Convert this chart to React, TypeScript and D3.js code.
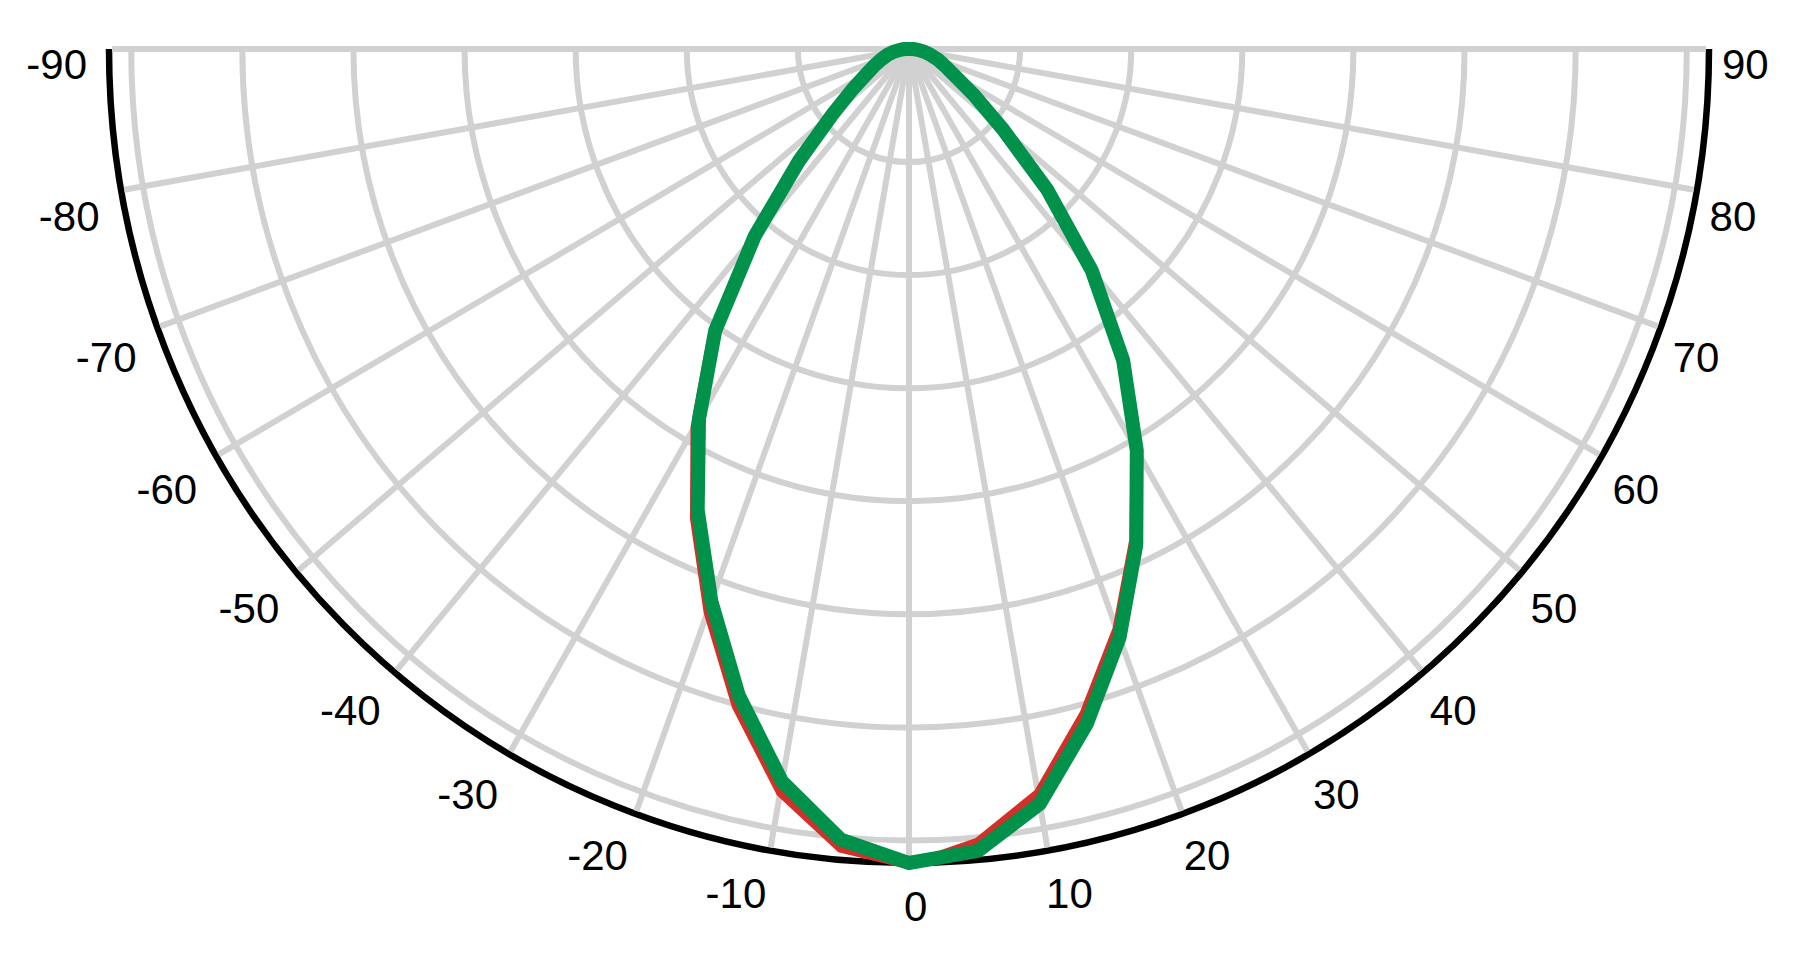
import { useEffect, useRef } from 'react'
import * as d3 from 'd3'

// polar curve data, degrees from nadir (negative = left)
const angles = [
  -90, -85, -80, -75, -70, -65, -60, -55, -50, -45, -40, -35, -30, -25, -20, -15, -10, -5, 0,
  5, 10, 15, 20, 25, 30, 35, 40, 45, 50, 55, 60, 65, 70, 75, 80, 85, 90,
]
const greenValues = [
  2, 4, 7, 10, 13, 17, 22, 31, 45, 70, 108, 152, 189, 225, 260, 296, 329, 351, 360,
  356, 339, 309, 277, 242, 205, 168, 128, 88, 55, 36, 24, 18, 14, 10, 7, 4, 2,
]
const redValues = [
  2, 4, 7, 10, 13, 17, 22, 32, 46, 72, 110, 155, 193, 229, 265, 301, 334, 355, 361,
  352, 334, 304, 273, 239, 203, 167, 127, 89, 56, 37, 25, 18, 14, 10, 7, 4, 2,
]

const ringValues = [50, 100, 150, 200, 250, 300, 350]
const maxValue = 360
const spokeAngles = [-90, -80, -70, -60, -50, -40, -30, -20, -10, 0, 10, 20, 30, 40, 50, 60, 70, 80, 90]
const tickLabels = ['-90', '-80', '-70', '-60', '-50', '-40', '-30', '-20', '-10', '0', '10', '20', '30', '40', '50', '60', '70', '80', '90']

const width = 1820
const height = 980
const cx = 909
const cy = 49
const radiusX = 800
const yStretch = 814 / 800

export default function App() {
  const svgRef = useRef<SVGSVGElement>(null)

  useEffect(() => {
    if (!svgRef.current) return
    const svg = d3.select(svgRef.current)
    svg.selectAll('*').remove()

    const r = d3.scaleLinear().domain([0, maxValue]).range([0, radiusX])
    // d3 radial angle: 0 = up, clockwise. nadir (0 deg) points down
    const a = d3.scaleLinear().domain([-90, 90]).range([Math.PI * 1.5, Math.PI * 0.5])

    const g = svg
      .append('g')
      .attr('transform', `translate(${cx},${cy}) scale(1,${yStretch})`)

    const ringPath = (v: number) => {
      const p = d3.path()
      p.moveTo(-r(v), 0)
      p.arc(0, 0, r(v), Math.PI, 0, true)
      return p.toString()
    }

    // rings
    g.selectAll('path.ring')
      .data(ringValues)
      .enter()
      .append('path')
      .attr('class', 'ring')
      .attr('d', (d) => ringPath(d))
      .attr('fill', 'none')
      .attr('stroke', '#d1d1d1')
      .attr('stroke-width', 6)
      .attr('vector-effect', 'non-scaling-stroke')

    // outer boundary
    g.append('path')
      .attr('d', ringPath(maxValue))
      .attr('fill', 'none')
      .attr('stroke', '#000')
      .attr('stroke-width', 6.5)
      .attr('vector-effect', 'non-scaling-stroke')

    // spokes
    g.selectAll('line.spoke')
      .data(spokeAngles)
      .enter()
      .append('line')
      .attr('class', 'spoke')
      .attr('x1', 0)
      .attr('y1', 0)
      .attr('x2', (d) => r(maxValue - 1.4) * Math.sin(a(d)))
      .attr('y2', (d) => -r(maxValue - 1.4) * Math.cos(a(d)))
      .attr('stroke', '#d1d1d1')
      .attr('stroke-width', 6)
      .attr('vector-effect', 'non-scaling-stroke')

    const line = d3
      .lineRadial<number>()
      .angle((_, i) => a(angles[i]))
      .radius((d) => r(d))
      .curve(d3.curveLinearClosed)

    g.append('path')
      .attr('d', line(redValues))
      .attr('fill', 'none')
      .attr('stroke', '#d3302a')
      .attr('stroke-width', 8)
      .attr('vector-effect', 'non-scaling-stroke')

    g.append('path')
      .attr('d', line(greenValues))
      .attr('fill', 'none')
      .attr('stroke', '#00924a')
      .attr('stroke-width', 14)
      .attr('vector-effect', 'non-scaling-stroke')

    // angle labels
    const rad = (d: number) => (d * Math.PI) / 180
    svg
      .append('g')
      .selectAll('text')
      .data(spokeAngles)
      .enter()
      .append('text')
      .attr('x', (d) => cx + (d < 0 ? 822 : 818) * Math.sin(rad(d)) + (d < 0 ? 0 : -5))
      .attr('y', (d) => cy + 834 * Math.cos(rad(d)) + 37.5 - (Math.abs(d) === 90 ? 8 : 0))
      .attr('text-anchor', (d) => (d < 0 ? 'end' : 'start'))
      .attr('font-family', '"Liberation Sans", Arial, sans-serif')
      .attr('font-size', 42)
      .attr('fill', '#000')
      .text((_, i) => tickLabels[i])
  }, [])

  return (
    <svg
      ref={svgRef}
      width={width}
      height={height}
      style={{ position: 'absolute', left: 0, top: 0, background: '#fff', display: 'block' }}
    />
  )
}
